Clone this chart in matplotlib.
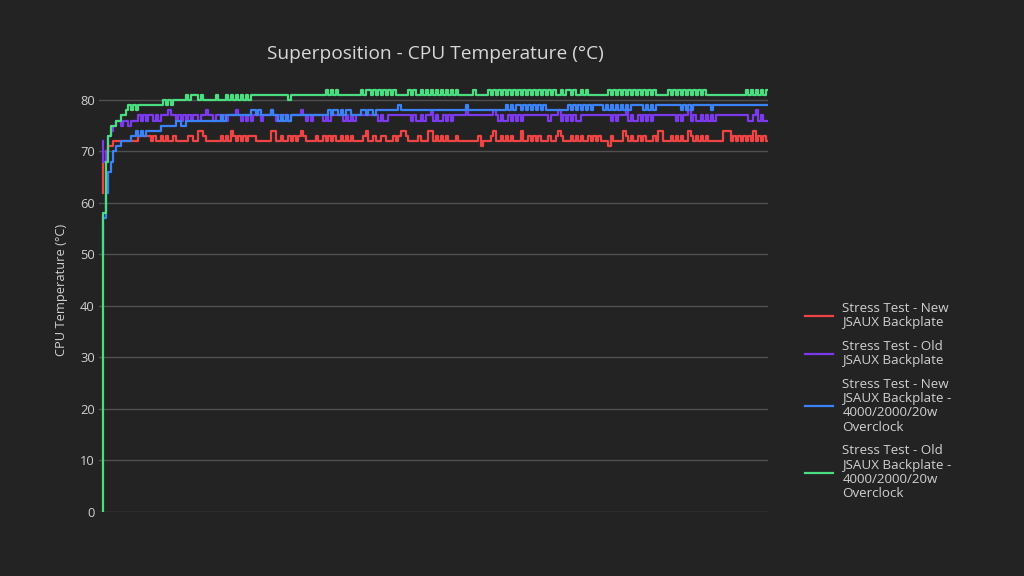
import matplotlib
matplotlib.use("Agg")
import matplotlib.pyplot as plt
import numpy as np

# start-up readings (°C), then the steady part as digits above a base value
red_start = [62, 68, 70, 71, 71, 72, 72]
red_base = 70
red_steady = [
    "22222222333332322323", "22322222332244322222", "23232432323233322222",
    "24422322323234322223", "22323232232323222234", "22322332223234432222",
    "32224423232322232222", "22223122234223232322", "24223232322232234322",
    "23232322323232221322", "22432322323222324422", "23232322432323232222",
    "22444232323232423232",
]

purple_start = [72, 68, 70, 73, 74, 75, 76]
purple_base = 70
purple_steady = [
    "65665666767677676777", "87767676767767787767", "76767778767676777677",
    "78767677677778767677", "77676777776767677777", "77776766777777777676",
    "67677867667676777778", "77777777778767667676", "76777777777767778676",
    "76766777777777777676", "77786766767676777777", "77767677867667676767",
    "77777777777766786766",
]

blue_start = [50, 57, 62, 66, 68, 70, 71]
blue_base = 70
blue_steady = [
    "12222334343444444555", "55566556666666666666", "67677777777778878777",
    "78776767677777777777", "77778788787887777887", "88788888888898888888",
    "88888888888888888889", "88888888888888898989", "98989898989888888888",
    "98989898989999898989", "89898999998989899999", "99999898989999999899",
    "99999999999999999999",
]

green_start = [0, 58, 68, 73, 75, 75, 76]
green_base = 75
green_steady = [
    "12234343444444444454", "54555556566656555556", "55565656565656666666",
    "66666666566666666666", "66676767666666666767", "76767676767666667676",
    "67676767676767676666", "66766666767676767676", "76767676767676766767",
    "76766767666666667676", "76767676767676766666", "76767676767676766666",
    "66666666666767676767",
]

labels = [
    "Stress Test - New\nJSAUX Backplate",
    "Stress Test - Old\nJSAUX Backplate",
    "Stress Test - New\nJSAUX Backplate -\n4000/2000/20w\nOverclock",
    "Stress Test - Old\nJSAUX Backplate -\n4000/2000/20w\nOverclock",
]
colors = ["#ef4444", "#7c3aed", "#3b82f6", "#4ade80"]


def build(start, base, chunks):
    return start + [base + int(c) for c in "".join(chunks)]


series = [
    build(red_start, red_base, red_steady),
    build(purple_start, purple_base, purple_steady),
    build(blue_start, blue_base, blue_steady),
    build(green_start, green_base, green_steady),
]

plt.rcParams["font.family"] = ["Open Sans", "DejaVu Sans"]
bg = "#232323"
txt = "#d0d0d0"

fig = plt.figure(figsize=(10.24, 5.76), dpi=100, facecolor=bg)
ax = fig.add_axes([99 / 1024, 64 / 576, 669 / 1024, 444 / 576], facecolor=bg)

for vals, col, lab in zip(series, colors, labels):
    ax.plot(np.arange(len(vals)), vals, color=col, lw=1.6,
            drawstyle="steps-pre", label=lab)

n = len(series[0])
ax.set_xlim(-1.6, n - 1)
ax.set_ylim(0, 86.2)
ax.set_yticks(range(0, 81, 10))
ax.set_xticks([])
ax.grid(axis="y", color="#505050", lw=1)
ax.set_axisbelow(True)
for s in ax.spines.values():
    s.set_visible(False)
ax.tick_params(axis="y", length=0, pad=3, labelsize=9.3, labelcolor=txt)
ax.set_ylabel("CPU Temperature (°C)", color=txt, fontsize=9.3, labelpad=9)

fig.text(435 / 1024, 1 - 54 / 576, "Superposition - CPU Temperature (°C)",
         ha="center", va="center", color="#d8d8d8", fontsize=13.8)

leg = fig.legend(loc="center left", bbox_to_anchor=(805 / 1024, 1 - 401 / 576),
                 frameon=False, borderpad=0, borderaxespad=0,
                 handlelength=2.1, handletextpad=0.7, labelspacing=0.8,
                 fontsize=9.6, labelcolor=txt)
for t in leg.get_texts():
    t.set_linespacing(1.13)

fig.savefig("out.png", dpi=100, facecolor=bg)
